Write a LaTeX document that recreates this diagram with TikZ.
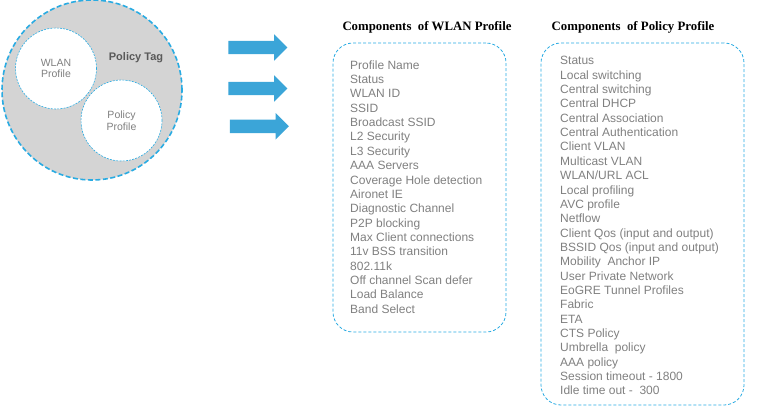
\documentclass[tikz,border=0pt]{standalone}
\usepackage{fontspec}
\setmainfont{Liberation Sans}
\newfontfamily\titlefont{Liberation Serif}
\usetikzlibrary{positioning, shapes.arrows}
\definecolor{tagblue}{HTML}{29ABE2}
\definecolor{arrowblue}{HTML}{3BA5D8}
\definecolor{tagfill}{HTML}{D4D4D4}
\definecolor{itemgray}{HTML}{808080}
\definecolor{taggray}{HTML}{595959}
\tikzset{%
  tag/.style={circle, draw=tagblue, fill=tagfill, line width=1.6pt, dash pattern=on 5pt off 2.5pt, minimum size=180pt, inner sep=0pt},
  prof/.style={circle, draw=tagblue, fill=white, line width=0.6pt, dash pattern=on 2pt off 1.2pt, minimum size=81pt, inner sep=0pt, align=center, text=itemgray, font=\fontsize{10.5}{11.6}\selectfont},
  push/.style={single arrow, fill=arrowblue, draw=none, minimum height=59pt, inner sep=0pt, inner ysep=6.5pt, single arrow head extend=6.5pt},
  compbox/.style={draw=tagblue, rounded corners=20pt, line width=0.8pt, dash pattern=on 3pt off 2pt, inner sep=0pt},
  comptitle/.style={font=\titlefont\bfseries\fontsize{12.8}{14}\selectfont, anchor=base},
  items/.style={anchor=north west, inner sep=0pt, align=left, text=itemgray, font=\fontsize{12}{14.35}\selectfont}
}

\begin{document}
\begin{tikzpicture}[x=1pt, y=-1pt]
        \useasboundingbox (0,0) rectangle (781,408);
        % policy tag
        \node[tag] (tag) at (92,90) {};
        \node[prof] (wlan) at (56,68.5) {WLAN\\Profile};
        \node[prof] (policy) at (121.5,120.5) {Policy\\Profile};
        \node[font=\bfseries\fontsize{11}{13}\selectfont, text=taggray] (tagname) at (136,57.5) {Policy Tag};
        % arrows
        \node[push] (arrow1) at (254.5,47.5) {};
        \node[push] (arrow2) at (254.5,88.5) {};
        \node[push] (arrow3) at (256,126.3) {};
        % components
        \node[compbox, minimum width=173pt, minimum height=289pt] (wlanbox) at (419.5,187.5) {};
        \node[compbox, minimum width=203pt, minimum height=362pt] (policybox) at (642.5,224) {};
        \node[comptitle] (wlantitle) at (427,30) {Components\ \ of WLAN Profile};
        \node[comptitle] (policytitle) at (633,30) {Components\ \ of Policy Profile};
        \node[items] (wlanitems) at (350,60.3) {Profile Name\\Status\\WLAN ID\\SSID\\Broadcast SSID\\L2 Security\\L3 Security\\AAA Servers\\Coverage Hole detection\\Aironet IE\\Diagnostic Channel\\P2P blocking\\Max Client connections\\11v BSS transition\\802.11k\\Off channel Scan defer\\Load Balance\\Band Select};
        \node[items] (policyitems) at (560,56.3) {Status\\Local switching\\Central switching\\Central DHCP\\Central Association\\Central Authentication\\Client VLAN\\Multicast VLAN\\WLAN/URL ACL\\Local profiling\\AVC profile\\Netflow\\Client Qos (input and output)\\BSSID Qos (input and output)\\Mobility\ \ Anchor IP\\User Private Network\\EoGRE Tunnel Profiles\\Fabric\\ETA\\CTS Policy\\Umbrella\ \ policy\\AAA policy\\Session timeout - 1800\\Idle time out -\ \ 300};
\end{tikzpicture}
\end{document}
